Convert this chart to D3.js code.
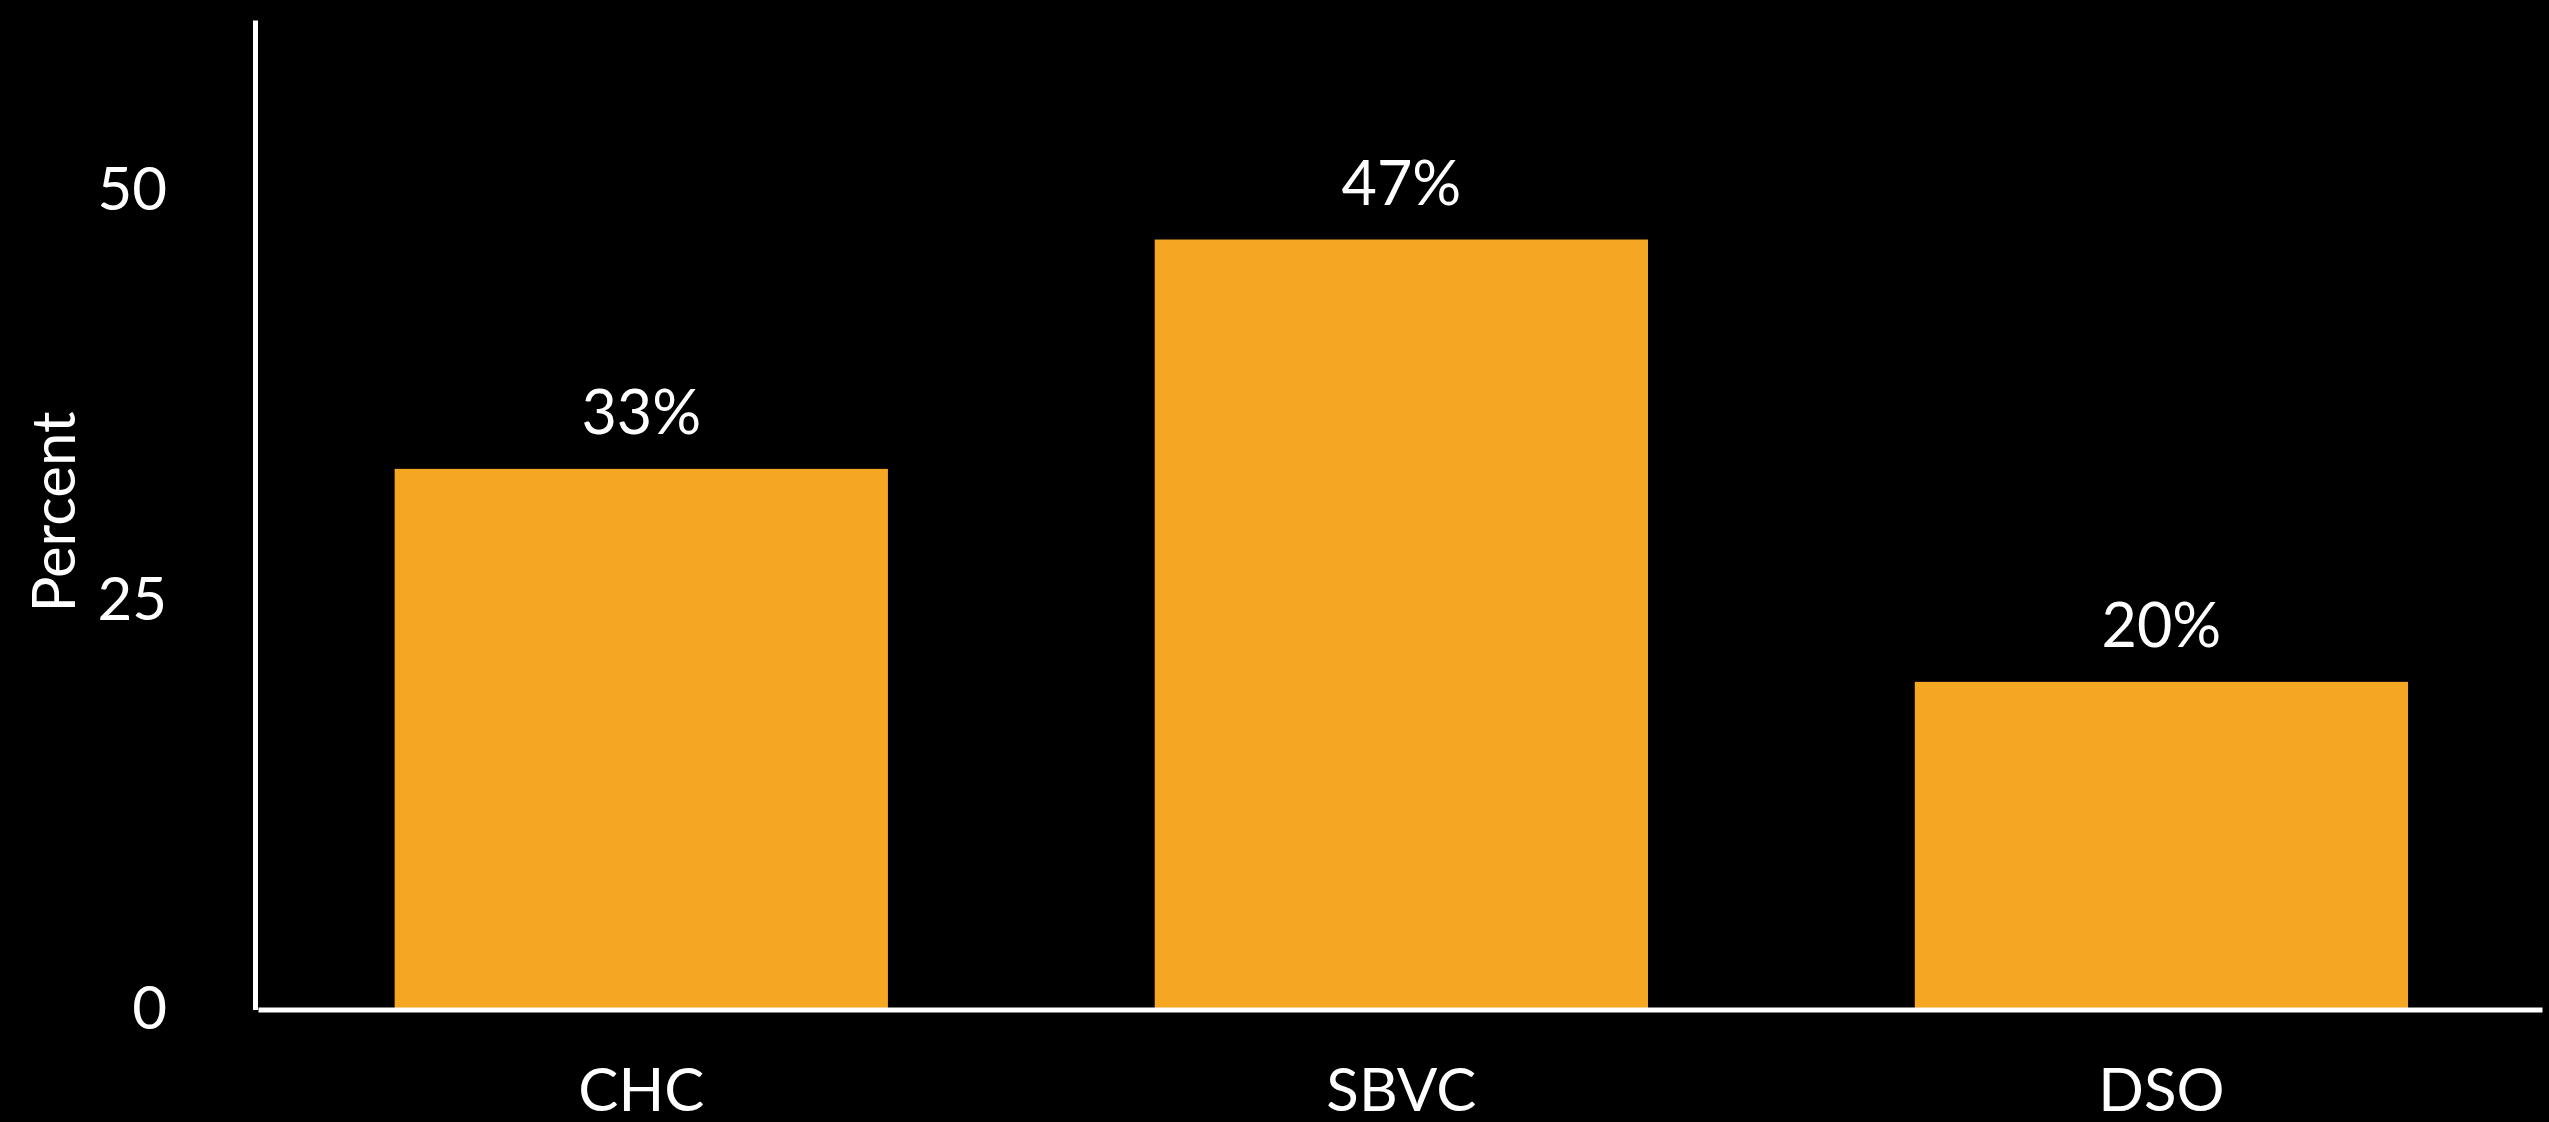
<!DOCTYPE html>
<html>
<head>
<meta charset="utf-8">
<script src="https://cdn.jsdelivr.net/npm/d3@7"></script>
<style>
  body { margin: 0; background: #000; }
  svg { display: block; }
  text { font-family: Lato, "Open Sans", sans-serif; fill: #fff; }
</style>
</head>
<body>
<div id="chart"></div>
<script>
// chart values
var categories = ["CHC", "SBVC", "DSO"];
var percents = [33, 47, 20];
var yTicks = [0, 25, 50];

var width = 2549, height = 1122;
var barColor = "#f5a724";

var svg = d3.select("#chart")
  .append("svg")
  .attr("width", width)
  .attr("height", height);

// scales
var x = d3.scaleBand()
  .domain(categories)
  .range([258, 2542])
  .paddingInner(0.351)
  .paddingOuter(0.178)
  .align(0.505);

var y = d3.scaleLinear()
  .domain([0, 60.4])
  .range([1009.5, 20]);

// bars
svg.selectAll("rect.bar")
  .data(categories)
  .enter()
  .append("rect")
  .attr("class", "bar")
  .attr("x", function(d) { return x(d); })
  .attr("width", x.bandwidth())
  .attr("y", function(d, i) { return y(percents[i]); })
  .attr("height", function(d, i) { return y(0) - y(percents[i]); })
  .style("fill", barColor);

// value labels above bars
svg.selectAll("text.value")
  .data(categories)
  .enter()
  .append("text")
  .attr("class", "value")
  .attr("x", function(d) { return x(d) + x.bandwidth() / 2; })
  .attr("y", function(d, i) { return y(percents[i]) - 35; })
  .attr("text-anchor", "middle")
  .style("font-size", "61px")
  .text(function(d, i) { return percents[i] + "%"; });

// y axis
var yAxis = svg.append("g")
  .attr("transform", "translate(255,0)")
  .call(d3.axisLeft(y).tickValues(yTicks).tickSize(0).tickPadding(88));

// x axis
var xAxis = svg.append("g")
  .attr("transform", "translate(0," + y(0) + ")")
  .call(d3.axisBottom(x).tickSize(0).tickPadding(59));

[yAxis, xAxis].forEach(function(g) {
  g.select(".domain").attr("stroke", "#fff").attr("stroke-width", 5);
  g.selectAll("text")
    .attr("fill", "#fff")
    .style("font-family", "Lato, 'Open Sans', sans-serif")
    .style("font-size", "60px");
});

// y axis title
svg.append("text")
  .attr("transform", "translate(75,512) rotate(-90)")
  .attr("text-anchor", "middle")
  .style("font-size", "60px")
  .text("Percent");
</script>
</body>
</html>
